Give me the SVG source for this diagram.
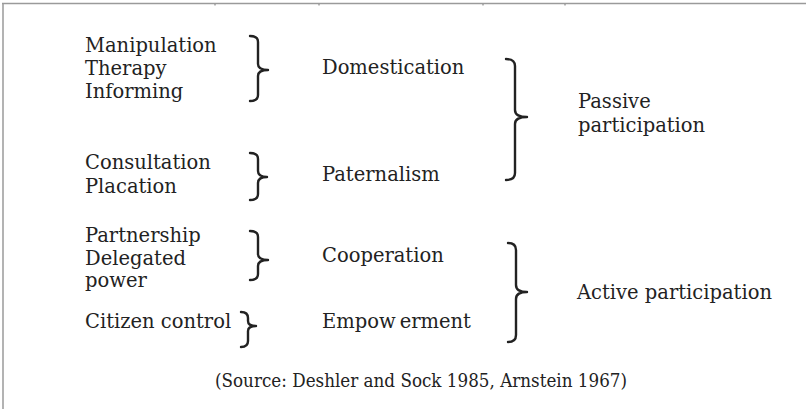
<svg xmlns="http://www.w3.org/2000/svg" width="806" height="409" viewBox="0 0 806 409">
<style>
.t{font-family:"DejaVu Serif","Liberation Serif",serif;font-size:19.5px;fill:#222}
.src{font-family:"DejaVu Serif","Liberation Serif",serif;font-size:18px;fill:#222}
.br{fill:none;stroke:#222;stroke-width:2.4;stroke-linecap:round;stroke-linejoin:round}
.frame{stroke:#9a9a9a;stroke-width:1.5;fill:none}
</style>
<rect width="806" height="409" fill="#fff"/>
<g id="frame">
<line class="frame" x1="2" y1="3.5" x2="806" y2="3.5"/>
<line class="frame" x1="3" y1="3" x2="3" y2="409"/>
<path d="M215,4v1.5M319,4v1.5M483,4v1.5M565,4v1.5" stroke="#777" stroke-width="1"/>
</g>
<g id="methods-domestication">
<text class="t" x="85" y="52">Manipulation</text>
<text class="t" x="85" y="75">Therapy</text>
<text class="t" x="85" y="98">Informing</text>
</g>
<g id="methods-paternalism">
<text class="t" x="85" y="169">Consultation</text>
<text class="t" x="85" y="193">Placation</text>
</g>
<g id="methods-cooperation">
<text class="t" x="85" y="242">Partnership</text>
<text class="t" x="85" y="265">Delegated</text>
<text class="t" x="85" y="287">power</text>
</g>
<g id="methods-empowerment">
<text class="t" x="85" y="328">Citizen control</text>
</g>
<g id="domestication"><text class="t" x="322" y="74">Domestication</text></g>
<g id="paternalism"><text class="t" x="322" y="181">Paternalism</text></g>
<g id="cooperation"><text class="t" x="322" y="262">Cooperation</text></g>
<g id="empowerment"><text class="t" x="322" y="328">Empow<tspan dx="4">erment</tspan></text></g>
<g id="passive">
<text class="t" x="578" y="108">Passive</text>
<text class="t" x="578" y="132">participation</text>
</g>
<g id="active"><text class="t" x="577" y="299">Active participation</text></g>
<g id="connectors">
<path class="br" d="M250,36 Q258,36 258,42 L258,64 Q258,70 268,70 Q258,70 258,76 L258,95 Q258,101 250,101"/>
<path class="br" d="M250,153 Q258,153 258,159 L258,171 Q258,177 267,177 Q258,177 258,183 L258,194 Q258,200 250,200"/>
<path class="br" d="M250,231 Q258,231 258,237 L258,254 Q258,260 268,260 Q258,260 258,266 L258,274 Q258,280 250,280"/>
<path class="br" d="M241,312 Q248,312 248,318 L248,321 Q248,326 256,326 Q248,326 248,331 L248,341 Q248,347 241,347"/>
<path class="br" d="M506,59 Q515,59 515,66 L515,110 Q515,117 527,117 Q515,117 515,124 L515,173 Q515,180 506,180"/>
<path class="br" d="M508,243 Q516,243 516,250 L516,285 Q516,292 527,292 Q516,292 516,299 L516,335 Q516,342 508,342"/>
</g>
<g id="source"><text class="src" x="215" y="387" textLength="412" lengthAdjust="spacingAndGlyphs">(Source: Deshler and Sock 1985, Arnstein 1967)</text></g>
</svg>
